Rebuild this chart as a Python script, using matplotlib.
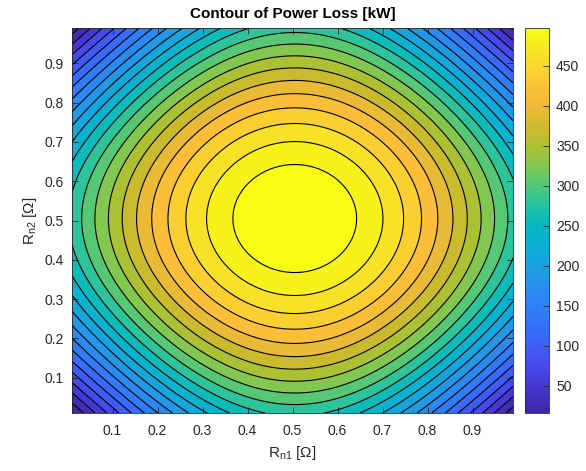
import numpy as np
import matplotlib
matplotlib.use("Agg")
import matplotlib.pyplot as plt
from matplotlib.colors import LinearSegmentedColormap, Normalize
from matplotlib.cm import ScalarMappable

# ---- data ----
R_n1 = np.linspace(0.01, 0.99, 99)   # [Ohm]
R_n2 = np.linspace(0.01, 0.99, 99)   # [Ohm]
peak_R = 0.505        # resistance of maximum loss [Ohm]
P_base = 41.0         # kW
P_amp = 228.0         # kW
P_cross = -33.0       # kW
n_levels = 22
x_ticks = [0.1, 0.2, 0.3, 0.4, 0.5, 0.6, 0.7, 0.8, 0.9]
y_ticks = [0.1, 0.2, 0.3, 0.4, 0.5, 0.6, 0.7, 0.8, 0.9]
cbar_ticks = [50, 100, 150, 200, 250, 300, 350, 400, 450]

X, Y = np.meshgrid(R_n1, R_n2)
cx = np.cos(np.pi * (X - peak_R))
cy = np.cos(np.pi * (Y - peak_R))
Z = P_base + P_amp * (cx + cy) + P_cross * (1 - cx) * (1 - cy)

# parula-like colormap (calibrated by eye)
parula_pts = [
    (0.00, (62, 38, 168)),
    (0.07, (70, 56, 212)),
    (0.13, (70, 78, 238)),
    (0.19, (60, 100, 248)),
    (0.25, (50, 120, 250)),
    (0.31, (42, 138, 242)),
    (0.37, (32, 156, 228)),
    (0.43, (12, 174, 214)),
    (0.49, (5, 185, 195)),
    (0.54, (38, 195, 162)),
    (0.59, (80, 200, 122)),
    (0.64, (128, 200, 82)),
    (0.69, (172, 192, 52)),
    (0.75, (210, 186, 45)),
    (0.80, (240, 186, 55)),
    (0.85, (254, 192, 58)),
    (0.90, (250, 214, 45)),
    (0.95, (246, 232, 35)),
    (1.00, (249, 251, 20)),
]
parula = LinearSegmentedColormap.from_list(
    "parula", [(t, tuple(c / 255 for c in rgb)) for t, rgb in parula_pts], N=256)

plt.rcParams['font.family'] = ['Liberation Sans', 'DejaVu Sans']
plt.rcParams['mathtext.fontset'] = 'custom'
plt.rcParams['mathtext.rm'] = 'Liberation Sans'
plt.rcParams['mathtext.it'] = 'Liberation Sans:italic'

W, H = 586, 471
fig = plt.figure(figsize=(W / 100, H / 100), dpi=100)
ax = fig.add_axes([72 / W, 1 - 413 / H, 441 / W, 385 / H])
cax = fig.add_axes([525 / W, 1 - 413 / H, 24 / W, 385 / H])

zmin, zmax = Z.min(), Z.max()
levels = np.linspace(zmin, zmax, n_levels + 2)
inner = levels[1:-1]
ax.contourf(X, Y, Z, levels=levels, cmap=parula,
            norm=Normalize(inner[0], inner[-1]))
ax.contour(X, Y, Z, levels=inner, colors='k', linewidths=0.8)

ax.set_xlim(R_n1[0], R_n1[-1])
ax.set_ylim(R_n2[0], R_n2[-1])
ax.set_xticks(x_ticks)
ax.set_yticks(y_ticks)
ax.set_xticklabels([f"{t:g}" for t in x_ticks])
ax.set_yticklabels([f"{t:g}" for t in y_ticks])
gray = (0.15, 0.15, 0.15)
ax.tick_params(direction='in', top=True, right=True, length=4, width=0.6,
               labelsize=10, colors=gray)
ax.tick_params(axis='x', pad=8)
ax.tick_params(axis='y', pad=6)
for s in ax.spines.values():
    s.set_color(gray)
    s.set_linewidth(0.6)

ax.set_xlabel(r'R$_{\mathrm{n1}}$ [$\Omega$]', fontsize=11, color=gray, labelpad=4)
ax.set_ylabel(r'R$_{\mathrm{n2}}$ [$\Omega$]', fontsize=11, color=gray, labelpad=4)
ax.set_title('Contour of Power Loss [kW]', fontsize=11, fontweight='bold', pad=7)

sm = ScalarMappable(norm=Normalize(zmin, zmax), cmap=parula)
cb = fig.colorbar(sm, cax=cax)
cb.set_ticks(cbar_ticks)
cb.ax.tick_params(direction='in', length=4, width=0.6, labelsize=10, colors=gray, pad=5)
cb.outline.set_edgecolor(gray)
cb.outline.set_linewidth(0.6)

fig.savefig("out.png", dpi=100)
